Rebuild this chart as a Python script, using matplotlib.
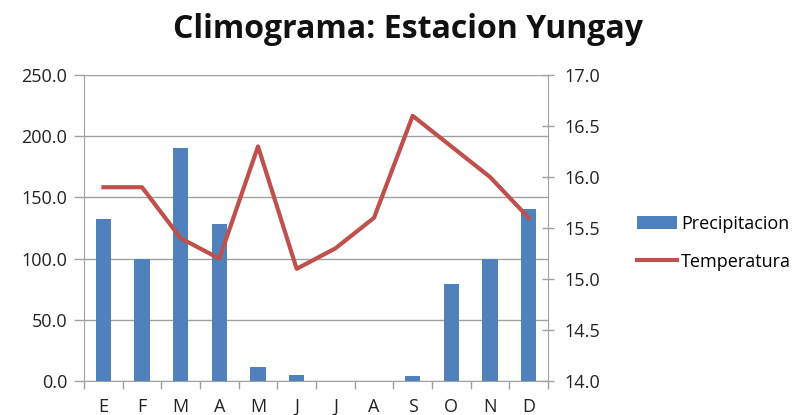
import matplotlib.pyplot as plt
import numpy as np

meses = ["E", "F", "M", "A", "M", "J", "J", "A", "S", "O", "N", "D"]
precipitacion = [132.4, 99.7, 190.4, 128.5, 11.7, 4.6, 0.0, 0.0, 4.5, 79.2, 100.0, 140.5]
temperatura = [15.9, 15.9, 15.4, 15.2, 16.3, 15.1, 15.3, 15.6, 16.6, 16.3, 16.0, 15.6]

plt.rcParams['font.family'] = ['Open Sans', 'DejaVu Sans']

azul = "#4f81bd"
rojo = "#c0504d"
gris = "#a0a0a0"

fig = plt.figure(figsize=(7.97, 4.15), dpi=100)
ax = fig.add_axes([0.1054, 0.0819, 0.5822, 0.7373])
x = np.arange(len(meses))

ax.bar(x, precipitacion, width=0.4, color=azul, label="Precipitacion", zorder=2)
ax.set_xlim(-0.5, len(meses) - 0.5)
ax.set_ylim(0, 250)
ax.set_yticks(np.arange(0, 251, 50))
ax.set_yticklabels([f"{v:.1f}" for v in np.arange(0, 251, 50)])
ax.grid(axis="y", color=gris, linewidth=1, zorder=0)
ax.set_xticks(x)
ax.set_xticklabels(meses)
ax.set_xticks(np.arange(-0.5, len(meses), 1), minor=True)
ax.tick_params(axis="x", which="major", length=0, pad=12)
ax.tick_params(axis="x", which="minor", length=6, color=gris, width=1)
ax.tick_params(axis="y", length=7, color=gris, width=1, pad=5)
ax.tick_params(labelsize=13, labelcolor="#222222")
for s in ["top", "right"]:
    ax.spines[s].set_visible(False)
for s in ["left", "bottom"]:
    ax.spines[s].set_color(gris)

ax2 = ax.twinx()
ax2.plot(x, temperatura, color=rojo, linewidth=3, label="Temperatura", zorder=3)
ax2.set_ylim(14, 17)
ax2.set_yticks(np.arange(14, 17.01, 0.5))
ax2.set_yticklabels([f"{v:.1f}" for v in np.arange(14, 17.01, 0.5)])
ax2.tick_params(axis="y", direction="inout", length=8, color=gris, width=1,
                labelsize=13, labelcolor="#222222", pad=8)
for s in ["top", "left", "bottom"]:
    ax2.spines[s].set_visible(False)
ax2.spines["right"].set_color(gris)

h1, l1 = ax.get_legend_handles_labels()
h2, l2 = ax2.get_legend_handles_labels()
fig.legend(h1 + h2, l1 + l2, loc="center left", bbox_to_anchor=(0.779, 0.415),
           frameon=False, fontsize=13, handlelength=2.2, handletextpad=0.25,
           labelspacing=1.1)

fig.text(0.512, 0.928, "Climograma: Estacion Yungay", ha="center", va="center",
         fontsize=23, fontweight="bold", color="#111111")

fig.savefig("out.png", dpi=100)
